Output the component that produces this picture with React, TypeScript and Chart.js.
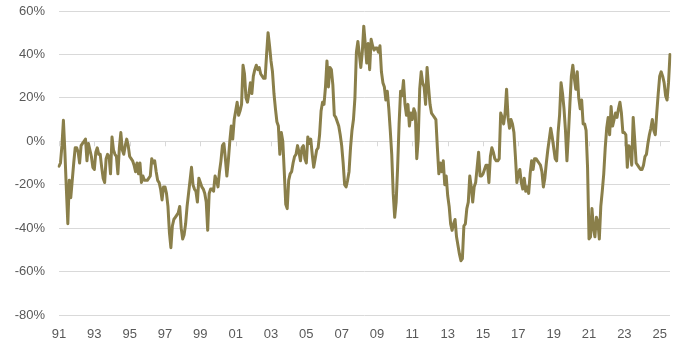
import React, { useEffect, useRef } from 'react';
import { Chart, registerables } from 'chart.js';

Chart.register(...registerables);

const startYear = 1991;

// Monthly values (%)
const y1991 = [-11.5, -10, -2, 9.7, -5, -22, -38, -18, -26, -18, -10, -3];
const y1992 = [-3, -5, -10, -2, -1, 0, 1, -9, -1, -4, -7, -12];
const y1993 = [-13, -5, -3, -6, -6, -12, -17, -19, -8, -6, -7, -15];
const y1994 = [2, -4, -6, -7, -15, -3, 4, -4, -6, -2, 1, -2];
const y1995 = [-7, -8, -9, -11, -14, -10, -15, -10, -19, -16, -18, -18];
const y1996 = [-18, -17, -16, -8, -10, -9, -14, -18, -19, -22, -27, -21];
const y1997 = [-21, -24, -30, -42, -49, -39, -36, -35, -34, -33, -30, -40];
const y1998 = [-45, -43, -38, -30, -24, -18, -12, -20, -22, -23, -28, -17];
const y1999 = [-19, -21, -22, -24, -28, -41, -24, -22, -22, -23, -16, -18];
const y2000 = [-21, -14, -9, -2, -1, -8, -16, -9, 0, 7, 1, 10];
const y2001 = [14, 18, 12, 14, 17, 35, 31, 20, 18, 22, 27, 22];
const y2002 = [30, 33, 35, 33, 34, 31, 30, 29, 29, 40, 50, 44];
const y2003 = [37, 32, 22, 15, 9, 7, -6, 4, 0, -14, -29, -31];
const y2004 = [-18, -15, -14, -10, -7, -6, -2, -5, -9, -3, -2, -8];
const y2005 = [-10, 2, -1, 1, -6, -12, -8, -4, -3, 3, 14, 18];
const y2006 = [17, 25, 37, 25, 34, 33, 26, 12, 11, 9, 7, 3];
const y2007 = [-2, -10, -20, -21, -18, -14, -3, 5, 10, 20, 41, 46];
const y2008 = [40, 34, 41, 53, 45, 36, 45, 33, 47, 44, 42, 43];
const y2009 = [43, 41, 44, 32, 27, 25, 19, 23, 15, 5, -6, -24];
const y2010 = [-35, -28, -12, 8, 23, 21, 28, 17, 12, 17, 7, 13];
const y2011 = [10, 15, 13, -8, 1, 24, 32, 27, 25, 17, 34, 25];
const y2012 = [17, 13, 12, 11, 10, -3, -15, -10, -14, -9, -20, -16];
const y2013 = [-25, -30, -38, -41, -38, -36, -44, -48, -52, -55, -54, -39];
const y2014 = [-38, -31, -28, -16, -21, -28, -21, -19, -12, -5, -16, -16];
const y2015 = [-15, -13, -11, -11, -19, -7, -3, -5, -8, -9, -9, -8];
const y2016 = [13, 11, 8, 13, 24, 11, 6, 10, 8, 4, -7, -19];
const y2017 = [-15, -13, -19, -22, -17, -23, -21, -24, -15, -9, -13, -8];
const y2018 = [-8, -9, -10, -11, -14, -21, -17, -10, -4, 1, 6, 2];
const y2019 = [-3, -8, -9, 4, 12, 27, 22, 15, 5, -9, 3, 17];
const y2020 = [30, 35, 29, 24, 32, 20, 15, 19, 8, 8, 5, -12];
const y2021 = [-45, -44, -31, -40, -44, -35, -37, -45, -30, -23, -15, -3];
const y2022 = [6, 11, 3, 16, 7, 10, 13, 11, 15, 18, 13, 4];
const y2023 = [4, 3, -12, -2, -3, -11, 11, 1, -10, -11, -12, -13];
const y2024 = [-13, -11, -7, -6, -1, 3, 6, 10, 5, 3, 13, 22];
const y2025 = [30, 32, 30, 27, 21, 19, 27, 40];

const yearly = [
  y1991, y1992, y1993, y1994, y1995, y1996, y1997, y1998, y1999, y2000,
  y2001, y2002, y2003, y2004, y2005, y2006, y2007, y2008, y2009, y2010,
  y2011, y2012, y2013, y2014, y2015, y2016, y2017, y2018, y2019, y2020,
  y2021, y2022, y2023, y2024, y2025,
];
const values: number[] = yearly.flat();
const months: string[] = values.map(
  (_, i) => `${startYear + Math.floor(i / 12)}-${String((i % 12) + 1).padStart(2, '0')}`
);

const xTickLabels = ['91', '93', '95', '97', '99', '01', '03', '05', '07', '09', '11', '13', '15', '17', '19', '21', '23', '25'];
const xTickEvery = 24;
const yMin = -80;
const yMax = 60;
const yStep = 20;

const FONT = "'Liberation Sans', Arial, Helvetica, sans-serif";
const GRID = '#d9d9d9';
const TEXT = '#595959';
const LINE = '#8a7f4a';

const zeroTicks = {
  id: 'zeroTicks',
  beforeDatasetsDraw(chart: any) {
    const { ctx, scales } = chart;
    const xs = scales.x;
    const ys = scales.y;
    const y0 = ys.getPixelForValue(0);
    ctx.save();
    ctx.strokeStyle = GRID;
    ctx.lineWidth = 1;
    for (let i = 0; i < months.length; i += xTickEvery) {
      const x = Math.round(xs.getPixelForValue(i)) + 0.5;
      ctx.beginPath();
      ctx.moveTo(x, y0);
      ctx.lineTo(x, y0 + 5);
      ctx.stroke();
    }
    ctx.restore();
  },
};

export default function App() {
  const ref = useRef<HTMLCanvasElement>(null);
  useEffect(() => {
    if (!ref.current) return;
    const chart = new Chart(ref.current, {
      type: 'line',
      data: {
        labels: months,
        datasets: [
          {
            data: values,
            borderColor: LINE,
            borderWidth: 3,
            pointRadius: 0,
            tension: 0,
            fill: false,
            borderJoinStyle: 'round',
            borderCapStyle: 'round',
          },
        ],
      },
      options: {
        animation: false,
        responsive: false,
        maintainAspectRatio: false,
        layout: { padding: { top: 11, right: 22, left: 0, bottom: 0 } },
        plugins: { legend: { display: false }, tooltip: { enabled: false } },
        scales: {
          x: {
            type: 'category',
            offset: false,
            grid: { display: false, drawTicks: false },
            border: { display: false },
            ticks: {
              autoSkip: false,
              maxRotation: 0,
              minRotation: 0,
              padding: 12,
              color: TEXT,
              font: { family: FONT, size: 13 },
              callback: (_v: any, i: number) => (i % xTickEvery === 0 ? xTickLabels[i / xTickEvery] : ''),
            },
            afterFit: (s: any) => {
              s.height = 42;
              s.paddingLeft = 0;
              s.paddingRight = 0;
            },
          },
          y: {
            min: yMin,
            max: yMax,
            grid: { color: GRID, lineWidth: 1, drawTicks: false },
            border: { display: false },
            ticks: {
              stepSize: yStep,
              padding: 14,
              color: TEXT,
              font: { family: FONT, size: 13 },
              callback: (v: any) => `${v}%`,
            },
            afterFit: (s: any) => {
              s.width = 59;
              s.paddingTop = 0;
              s.paddingBottom = 0;
            },
          },
        },
      },
      plugins: [zeroTicks],
    } as any);
    return () => chart.destroy();
  }, []);
  return (
    <div style={{ position: 'fixed', left: 0, top: 0, width: 692, height: 357, background: '#fff' }}>
      <canvas ref={ref} width={692} height={357} />
    </div>
  );
}
